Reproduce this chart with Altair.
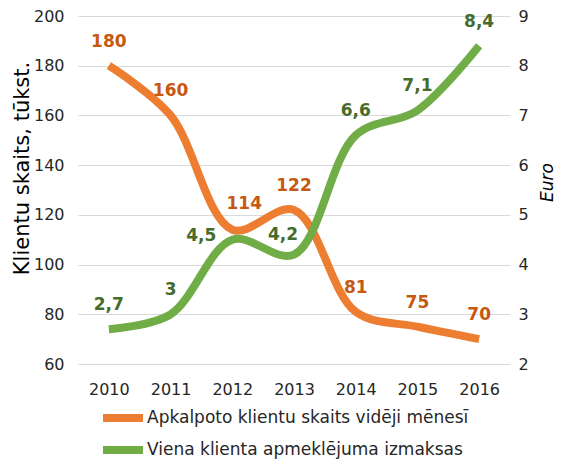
import altair as alt
import pandas as pd

years = ["2010", "2011", "2012", "2013", "2014", "2015", "2016"]
clients = [180, 160, 114, 122, 81, 75, 70]
cost = [2.7, 3.0, 4.5, 4.2, 6.6, 7.1, 8.4]
series_names = ["Apkalpoto klientu skaits vidēji mēnesī",
                "Viena klienta apmeklējuma izmaksas"]
left_ticks = [60, 80, 100, 120, 140, 160, 180, 200]
right_ticks = [2, 3, 4, 5, 6, 7, 8, 9]

def fmt(v):
    return f"{v:g}".replace(".", ",")

df_c = pd.DataFrame({"year": years, "value": clients,
                     "label": [fmt(v) for v in clients],
                     "series": series_names[0]})
df_e = pd.DataFrame({"year": years, "value": cost,
                     "label": [fmt(v) for v in cost],
                     "series": series_names[1]})

FONT = "DejaVu Sans"
ORANGE = "#ED7D31"
GREEN = "#70AD47"
ORANGE_T = "#C65911"
GREEN_T = "#466B2B"
TXT = "#262626"

W, H = 432, 348

x = alt.X("year:N", title=None, sort=years,
          scale=alt.Scale(paddingInner=0, paddingOuter=0),
          axis=alt.Axis(labelAngle=0, ticks=False, domain=False, grid=False,
                        labelPadding=17, labelFontSize=16, labelFont=FONT,
                        labelColor=TXT))

color = alt.Color("series:N", title=None,
                  scale=alt.Scale(domain=series_names, range=[ORANGE, GREEN]),
                  legend=alt.Legend(orient="none", legendX=31, legendY=388,
                                    direction="vertical",
                                    symbolType="M-2,0H2",
                                    symbolSize=400, symbolStrokeWidth=8,
                                    labelFontSize=17, labelFont=FONT,
                                    labelColor=TXT, rowPadding=0,
                                    labelOffset=10, labelLimit=500,
                                    padding=0))

y_left = alt.Y("value:Q",
               scale=alt.Scale(domain=[60, 200], nice=False, zero=False),
               axis=alt.Axis(title="Klientu skaits, tūkst.", values=left_ticks,
                             ticks=False, domain=False, grid=True,
                             gridColor="#D9D9D9", gridWidth=1,
                             labelPadding=14, labelFontSize=16, labelFont=FONT,
                             labelColor=TXT, titleFont=FONT,
                             titleFontSize=21, titleFontWeight="normal",
                             titleColor="#000000", titleAngle=270,
                             titleBaseline="middle", titleX=-56, titleY=152))

y_right = alt.Y("value:Q",
                scale=alt.Scale(domain=[2, 9], nice=False, zero=False),
                axis=alt.Axis(title="Euro", orient="right", values=right_ticks,
                              ticks=False, domain=False, grid=False,
                              labelPadding=8, labelFontSize=16, labelFont=FONT,
                              labelColor=TXT, titleFont=FONT,
                              titleFontSize=17, titleFontWeight="normal",
                              titleFontStyle="italic", titleColor="#000000",
                              titleAngle=270, titleBaseline="middle",
                              titleX=37, titleY=166))

line_c = alt.Chart(df_c).mark_line(interpolate="catmull-rom", strokeWidth=8,
                                    strokeCap="butt").encode(x=x, y=y_left, color=color)
line_e = alt.Chart(df_e).mark_line(interpolate="catmull-rom", strokeWidth=8,
                                    strokeCap="butt").encode(x=x, y=y_right, color=color)

def labels(df, y, col, special):
    """special: list of (years, dx, dy) label placements; others sit above."""
    base = alt.Chart(df)
    used = [yy for grp in special for yy in grp[0]]
    groups = [([yy for yy in years if yy not in used], 0, -24)] + special
    out = []
    for yrs, dx, dy in groups:
        out.append(base.transform_filter(alt.FieldOneOfPredicate(field="year", oneOf=list(yrs)))
                   .mark_text(fontSize=17, fontWeight="bold", font=FONT, color=col,
                              dx=dx, dy=dy)
                   .encode(x=x, y=y, text="label:N"))
    return out

lab_c = labels(df_c, y_left, ORANGE_T, [(["2012"], 12, -26)])
lab_e = labels(df_e, y_right, GREEN_T, [(["2012"], -31, -4), (["2013"], -11, -20)])

left = alt.layer(line_c, *lab_c)
right = alt.layer(line_e, *lab_e)

chart = alt.layer(left, right).resolve_scale(y="independent").properties(
    width=W, height=H,
    autosize=alt.AutoSizeParams(type="none"),
    padding={"left": 70, "top": 8, "right": 45, "bottom": 97},
).configure_view(stroke=None)

chart.save("out.html", embed_options={"renderer": "svg", "actions": False})
